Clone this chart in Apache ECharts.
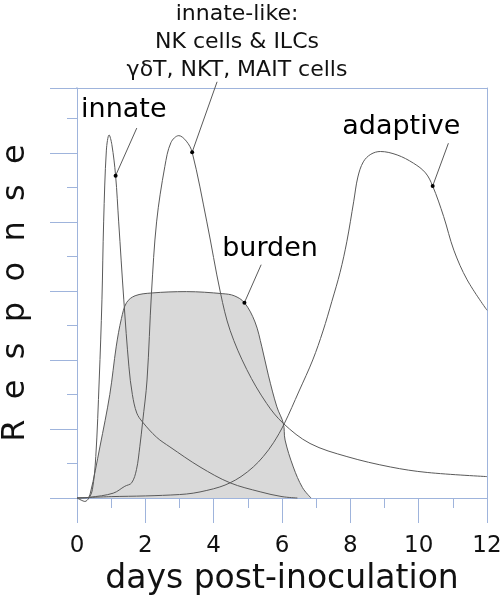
<!DOCTYPE html>
<html>
<head>
<meta charset="utf-8">
<script src="https://cdn.jsdelivr.net/npm/echarts@6/dist/echarts.min.js"></script>
<style>html,body{margin:0;padding:0;background:#fff;}#c{width:502px;height:600px;}</style>
</head>
<body>
<div id="c"></div>
<script>
// ---- data (x = days post-inoculation, y = response units) ----
var innate = [[0,0],[0.12,-0.03],[0.23,-0.05],[0.35,0.0],[0.45,0.12],[0.55,0.6],[0.65,1.71],[0.73,2.87],[0.78,4.0],[0.86,5.04],[0.94,5.26],[1.02,5.12],[1.13,4.67],[1.22,4.0],[1.37,2.87],[1.52,1.9],[1.62,1.5],[1.75,1.23],[1.92,1.1],[2.33,0.88],[2.72,0.74],[3.6,0.45],[4.48,0.22],[5.36,0.09],[6.0,0.02],[6.45,0]];
var innateLike = [[0,0],[0.37,0.01],[1.06,0.07],[1.4,0.17],[1.6,0.22],[1.74,0.41],[1.84,0.75],[1.92,1.1],[2.05,1.71],[2.18,2.97],[2.33,4.0],[2.57,4.8],[2.75,5.15],[2.98,5.25],[3.2,5.17],[3.37,5.01],[3.8,4.0],[4.2,2.97],[4.48,2.43],[4.97,1.86],[5.55,1.37],[6.04,1.08],[6.82,0.79],[7.9,0.6],[9.17,0.45],[10.25,0.37],[12,0.31]];
var adaptive = [[0,0],[1,0.02],[2,0.03],[3,0.05],[3.4,0.07],[3.8,0.11],[4.18,0.16],[4.48,0.22],[4.8,0.31],[5.16,0.45],[5.45,0.6],[5.75,0.8],[6.06,1.07],[6.5,1.55],[6.9,2.0],[7.2,2.42],[7.46,2.85],[7.7,3.27],[7.9,3.72],[8.1,4.3],[8.22,4.65],[8.38,4.87],[8.6,4.98],[8.88,5.02],[9.37,4.97],[9.85,4.85],[10.2,4.71],[10.41,4.52],[10.73,4.08],[11.03,3.59],[11.42,3.16],[12,2.72]];
var burden = [[0,0],[0.3,0],[0.39,0.07],[0.67,0.74],[0.96,1.5],[1.15,2.2],[1.3,2.6],[1.45,2.83],[1.7,2.93],[2.18,2.97],[3.2,2.99],[4.27,2.96],[4.6,2.93],[4.9,2.83],[5.21,2.55],[5.41,2.19],[5.6,1.78],[5.85,1.32],[6.04,1.08],[6.09,0.84],[6.33,0.45],[6.6,0.15],[6.85,0]];

var xTicks = [0,2,4,6,8,10,12];
var xName = 'days post-inoculation';
var yName = 'R  e  s  p  o  n  s  e';
var groupTitle = 'innate-like:\nNK cells & ILCs\n\u03b3\u03b4T, NKT, MAIT cells';

// annotations: label text, label anchor, leader start, leader end (dot)
var annoNames = ['innate','adaptive','burden'];
var annoLabelPos = [[1.37,5.62],[9.49,5.38],[5.65,3.61]];
var leaderStarts = [[1.75,5.36],[4.10,6.03],[10.87,5.14],[5.39,3.38]];
var leaderEnds = [[1.13,4.67],[3.37,5.01],[10.41,4.52],[4.90,2.83]];

var FONT = 'DejaVu Sans';
var AXIS = '#9fb4dc';
var LINE = '#5a5a5a';
var yMax = 5.94;
var topTickX = -0.79; // top frame tick extends left of the axis

var chart = echarts.init(document.getElementById('c'), null, {renderer:'canvas'});

var series = [];
series.push({type:'line', data:burden, smooth:0.35, symbol:'none', z:2,
  lineStyle:{color:LINE, width:1}, areaStyle:{color:'#d9d9d9', opacity:1, origin:'start'}});
[innate, innateLike, adaptive].forEach(function(d){
  series.push({type:'line', data:d, smooth:0.35, symbol:'none', z:3, clip:false,
    lineStyle:{color:LINE, width:1}});
});
for (var i=0;i<leaderStarts.length;i++){
  series.push({type:'line', data:[leaderStarts[i], leaderEnds[i]], symbol:'none', z:4, clip:false, silent:true,
    lineStyle:{color:LINE, width:1}});
}
// top frame line extension (acts like the top major tick)
series.push({type:'line', data:[[topTickX,yMax],[0,yMax]], symbol:'none', z:1, clip:false, silent:true,
  lineStyle:{color:AXIS, width:1}});
series.push({type:'scatter', data:leaderEnds, symbol:'circle', symbolSize:4, z:5, clip:false, silent:true,
  itemStyle:{color:'#000', opacity:1}});
series.push({type:'scatter', symbolSize:0, z:5, clip:false, silent:true,
  itemStyle:{opacity:1},
  data: annoNames.map(function(n,i){return {name:n, value:annoLabelPos[i]};}),
  label:{show:true, position:'inside', formatter:'{b}', fontFamily:FONT, fontSize:27, color:'#000', opacity:1}});

var option = {
  animation:false,
  backgroundColor:'#fff',
  title:{text:groupTitle, left:237, top:0, padding:0, textAlign:'center',
    textStyle:{fontFamily:FONT, fontSize:22, fontWeight:'normal', color:'#111', lineHeight:28}},
  grid:{left:77, right:15, top:88, bottom:102, containLabel:false, outerBoundsMode:'none'},
  xAxis:[{
    type:'value', min:0, max:12, interval:2,
    name:xName, nameLocation:'middle', nameGap:64,
    nameTextStyle:{fontFamily:FONT, fontSize:33, color:'#111'},
    axisLine:{show:true, onZero:false, lineStyle:{color:AXIS, width:1}},
    axisTick:{show:true, length:25, lineStyle:{color:AXIS, width:1}},
    minorTick:{show:true, splitNumber:2, length:10, lineStyle:{color:AXIS, width:1}},
    axisLabel:{margin:37, fontFamily:FONT, fontSize:23, color:'#111',
      formatter:function(v){return xTicks.indexOf(v)>=0 ? String(v) : '';}},
    splitLine:{show:false}
  },{
    type:'value', min:0, max:12, position:'top',
    axisLine:{show:true, onZero:false, lineStyle:{color:AXIS, width:1}},
    axisTick:{show:false}, axisLabel:{show:false}, splitLine:{show:false}
  }],
  yAxis:[{
    type:'value', min:0, max:yMax, interval:1,
    name:yName, nameLocation:'middle', nameGap:45, nameRotate:90,
    nameTextStyle:{fontFamily:FONT, fontSize:32, color:'#111'},
    axisLine:{show:true, onZero:false, lineStyle:{color:AXIS, width:1}},
    axisTick:{show:true, length:27, lineStyle:{color:AXIS, width:1}},
    minorTick:{show:true, splitNumber:2, length:10, lineStyle:{color:AXIS, width:1}},
    axisLabel:{show:false}, splitLine:{show:false}
  },{
    type:'value', min:0, max:yMax, position:'right',
    axisLine:{show:true, onZero:false, lineStyle:{color:AXIS, width:1}},
    axisTick:{show:false}, axisLabel:{show:false}, splitLine:{show:false}
  }],
  series:series
};
chart.setOption(option);
</script>
</body>
</html>
